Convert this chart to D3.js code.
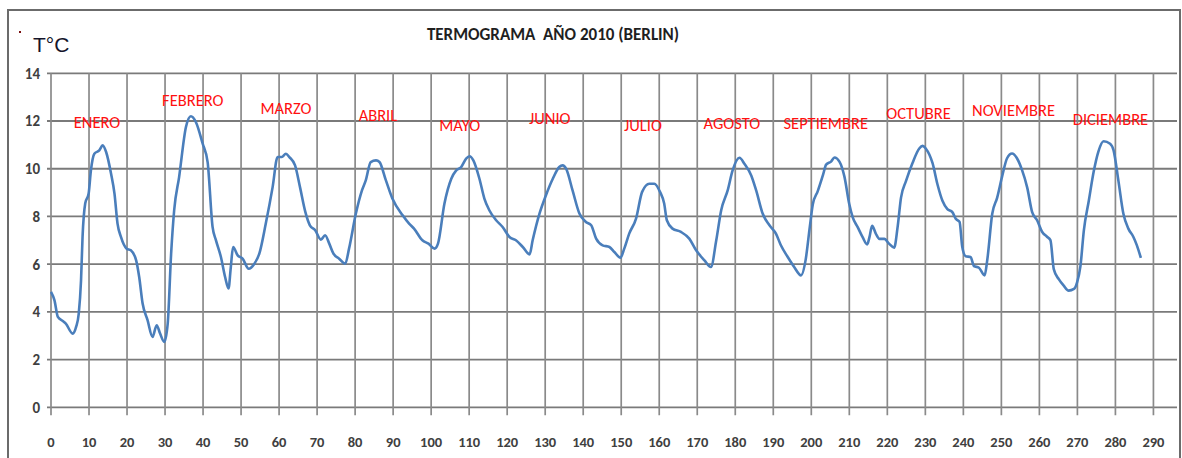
<!DOCTYPE html>
<html>
<head>
<meta charset="utf-8">
<script src="https://cdn.jsdelivr.net/npm/d3@7"></script>
<style>
    html, body { margin: 0; padding: 0; background: #fff; }
</style>
</head>
<body>
<div id="chart"></div>
<script>
/*global d3*/
(function () {
    'use strict';

    var trace = [
        [0, 4.84], [0.9, 4.49], [1.8, 3.79], [3.1, 3.62], [3.9, 3.51], [5.7, 3.09], [6.6, 3.37],
        [7.3, 3.93], [7.9, 5.32], [8.3, 7.14], [9.0, 8.54], [9.9, 8.96], [10.5, 9.93], [11.4, 10.63],
        [12.7, 10.77], [13.6, 10.98], [14.5, 10.70], [15.8, 9.79], [16.7, 8.96], [17.5, 7.70],
        [18.4, 7.14], [19.9, 6.65], [21.0, 6.58], [22.4, 6.16], [23.2, 5.46], [24.1, 4.35],
        [25.4, 3.65], [26.7, 2.95], [27.8, 3.44], [28.7, 3.09], [29.8, 2.74], [30.7, 3.51],
        [31.6, 6.44], [32.4, 8.26], [33.7, 9.65], [35.5, 11.75], [36.8, 12.20], [38.1, 11.96],
        [39.9, 11.05], [41.2, 10.28], [42.5, 7.56], [43.4, 7.00], [44.7, 6.30], [45.8, 5.46],
        [46.7, 4.98], [47.3, 5.88], [47.9, 6.72], [49.1, 6.37], [50.4, 6.23], [52.0, 5.81],
        [53.5, 6.02], [54.8, 6.44], [56.5, 7.70], [58.3, 9.23], [59.6, 10.49], [60.7, 10.49],
        [61.8, 10.63], [62.7, 10.49], [64.2, 10.14], [65.5, 9.23], [66.9, 8.19], [68.1, 7.63],
        [69.5, 7.42], [71.0, 7.03], [72.1, 7.21], [73.2, 6.86], [74.3, 6.44], [75.8, 6.23],
        [77.4, 6.02], [78.4, 6.65], [80.2, 8.12], [81.8, 9.09], [82.8, 9.51], [84.1, 10.28],
        [85.5, 10.35], [86.4, 10.28], [88.1, 9.51], [89.8, 8.75], [92.5, 8.05], [94.2, 7.70],
        [95.5, 7.49], [97.7, 7.00], [99.3, 6.86], [100.9, 6.65], [101.8, 6.86], [103.5, 8.54],
        [105.3, 9.58], [106.6, 9.93], [107.9, 10.07], [109.2, 10.42], [110.1, 10.52], [111.1, 10.35],
        [112.7, 9.58], [114.0, 8.75], [115.3, 8.26], [117.1, 7.84], [118.8, 7.56], [120.6, 7.14],
        [122.3, 7.00], [124.1, 6.72], [125.9, 6.41], [126.7, 7.00], [128.5, 8.12], [130.2, 8.89],
        [132.0, 9.58], [133.7, 10.07], [134.6, 10.14], [135.5, 10.00], [137.2, 9.09], [139.0, 8.12],
        [140.7, 7.77], [142.1, 7.63], [143.4, 7.07], [145.1, 6.79], [146.9, 6.72], [148.2, 6.51],
        [149.8, 6.27], [150.8, 6.65], [152.1, 7.28], [153.9, 7.91], [155.5, 9.03], [157.4, 9.37],
        [158.7, 9.37], [160.2, 9.03], [161.3, 8.54], [162.0, 7.84], [163.5, 7.49], [165.7, 7.35],
        [167.9, 7.07], [169.7, 6.58], [171.9, 6.16], [173.6, 5.88], [175.0, 7.00], [176.3, 8.26],
        [178.0, 9.09], [179.3, 9.93], [181.1, 10.46], [182.4, 10.21], [184.2, 9.72], [185.5, 9.09],
        [187.2, 8.12], [189.0, 7.63], [190.7, 7.28], [192.0, 6.79], [193.8, 6.30], [195.5, 5.88],
        [197.3, 5.53], [198.5, 6.17], [199.6, 7.55], [200.4, 8.51], [201.7, 9.06], [203.1, 9.75],
        [203.9, 10.17], [205.2, 10.30], [206.1, 10.47], [207.4, 10.30], [208.7, 9.68], [210.0, 8.51],
        [210.9, 7.96], [212.2, 7.55], [213.5, 7.13], [214.7, 6.83], [215.3, 7.13], [216.0, 7.61],
        [217.0, 7.27], [217.9, 7.06], [219.2, 7.06], [220.5, 6.85], [221.8, 6.69], [222.7, 7.55],
        [223.6, 8.79], [224.9, 9.48], [226.6, 10.23], [228.4, 10.85], [229.3, 10.96], [230.1, 10.85],
        [231.9, 10.23], [233.2, 9.34], [234.5, 8.66], [235.8, 8.31], [237.1, 8.18], [238.0, 7.90],
        [239.0, 7.77], [239.7, 6.74], [240.6, 6.33], [241.9, 6.30], [242.8, 5.92], [244.1, 5.85],
        [245.6, 5.53], [246.3, 6.19], [247.6, 8.11], [248.9, 8.79], [250.2, 9.68], [251.5, 10.44],
        [252.8, 10.64], [254.1, 10.44], [255.4, 9.96], [256.8, 9.21], [258.1, 8.18], [259.4, 7.84],
        [260.7, 7.36], [262.0, 7.15], [262.9, 7.01], [263.8, 5.78], [265.1, 5.37], [266.4, 5.10],
        [267.7, 4.89], [269.1, 4.96], [269.9, 5.23], [270.8, 5.92], [271.7, 7.42], [273.0, 8.66],
        [274.3, 9.89], [275.5, 10.71], [276.9, 11.15], [278.6, 11.05], [279.5, 10.78], [280.8, 9.48],
        [282.1, 8.11], [283.4, 7.49], [284.7, 7.15], [285.6, 6.81], [286.7, 6.26]
    ],

        months = ['ENERO', 'FEBRERO', 'MARZO', 'ABRIL', 'MAYO', 'JUNIO', 'JULIO', 'AGOSTO',
            'SEPTIEMBRE', 'OCTUBRE', 'NOVIEMBRE', 'DICIEMBRE'],
        // donde esta cada rotulo, en unidades del grafico (dia, grados)
        monthDay = [12.1, 37.3, 61.8, 86.0, 107.5, 131.2, 155.7, 179.1, 203.8, 228.2, 253.2, 278.7],
        monthTemp = [11.95, 12.88, 12.54, 12.25, 11.83, 12.12, 11.83, 11.92, 11.92, 12.33, 12.46, 12.08],

        xTicks = d3.range(0, 291, 10),
        yTicks = d3.range(0, 15, 2),

        width = 1182,
        height = 458,
        left = 51,
        right = 1177,
        top = 73.3,
        bottom = 407.3,

        narrow = 'Calibri, Carlito, "Liberation Sans", Arial, sans-serif',

        svg = d3.select('#chart')
            .append('svg')
            .attr('width', width)
            .attr('height', height),

        x = d3.scaleLinear().domain([0, 296.2]).range([left, right]),
        y = d3.scaleLinear().domain([0, 14]).range([bottom, top]),

        line = d3.line()
            .x(function (d) { return x(d[0]); })
            .y(function (d) { return y(d[1]); })
            .curve(d3.curveMonotoneX);

    svg.append('rect')
        .attr('width', width)
        .attr('height', height)
        .style('fill', '#fff');

    // marco exterior
    svg.append('rect')
        .attr('x', 8)
        .attr('y', 10)
        .attr('width', 1172)
        .attr('height', 470)
        .style('fill', 'none')
        .style('stroke', '#6b6b6b')
        .style('stroke-width', '2px');

    svg.append('rect')
        .attr('x', 19)
        .attr('y', 31)
        .attr('width', 2)
        .attr('height', 2)
        .style('fill', '#7a1010');

    // rejilla
    svg.append('g')
        .selectAll('line')
        .data(yTicks)
        .enter()
        .append('line')
        .attr('x1', left - 4)
        .attr('x2', right)
        .attr('y1', function (d) { return y(d); })
        .attr('y2', function (d) { return y(d); })
        .style('stroke', '#7a7a7a')
        .style('stroke-width', '1.8px');

    svg.append('g')
        .selectAll('line')
        .data(xTicks)
        .enter()
        .append('line')
        .attr('x1', function (d) { return x(d); })
        .attr('x2', function (d) { return x(d); })
        .attr('y1', top)
        .attr('y2', bottom + 8)
        .style('stroke', '#8a8a8a')
        .style('stroke-width', '1.7px');

    // ejes
    svg.append('g')
        .selectAll('text')
        .data(yTicks)
        .enter()
        .append('text')
        .attr('x', 40)
        .attr('y', function (d) { return y(d); })
        .attr('dy', '0.36em')
        .attr('text-anchor', 'end')
        .style('font-family', narrow)
        .style('font-weight', 'bold')
        .style('font-size', '15px')
        .style('fill', '#404040')
        .text(function (d) { return d; });

    svg.append('g')
        .selectAll('text')
        .data(xTicks)
        .enter()
        .append('text')
        .attr('x', function (d) { return x(d); })
        .attr('y', 447)
        .attr('text-anchor', 'middle')
        .style('font-family', narrow)
        .style('font-weight', 'bold')
        .style('font-size', '14.5px')
        .style('fill', '#404040')
        .text(function (d) { return d; });

    // serie
    svg.append('path')
        .datum(trace)
        .attr('d', line)
        .style('fill', 'none')
        .style('stroke', '#4a7ebb')
        .style('stroke-width', '2.6px')
        .style('stroke-linejoin', 'round');

    // meses
    svg.append('g')
        .selectAll('text')
        .data(months)
        .enter()
        .append('text')
        .attr('x', function (d, i) { return x(monthDay[i]); })
        .attr('y', function (d, i) { return y(monthTemp[i]); })
        .attr('dy', '0.36em')
        .attr('text-anchor', 'middle')
        .style('font-family', narrow)
        .style('font-size', '16.5px')
        .style('fill', '#ff1010')
        .text(function (d) { return d; });

    // titulos
    svg.append('text')
        .attr('x', 553)
        .attr('y', 40)
        .attr('text-anchor', 'middle')
        .attr('xml:space', 'preserve')
        .style('white-space', 'pre')
        .style('font-family', narrow)
        .style('font-weight', 'bold')
        .style('font-size', '17px')
        .style('fill', '#1f1f1f')
        .text('TERMOGRAMA  AÑO 2010 (BERLIN)');

    svg.append('text')
        .attr('x', 33)
        .attr('y', 52)
        .style('font-family', '"Liberation Sans", Arial, sans-serif')
        .style('font-size', '21px')
        .style('fill', '#14142a')
        .text('T°C');

}());
</script>
</body>
</html>
